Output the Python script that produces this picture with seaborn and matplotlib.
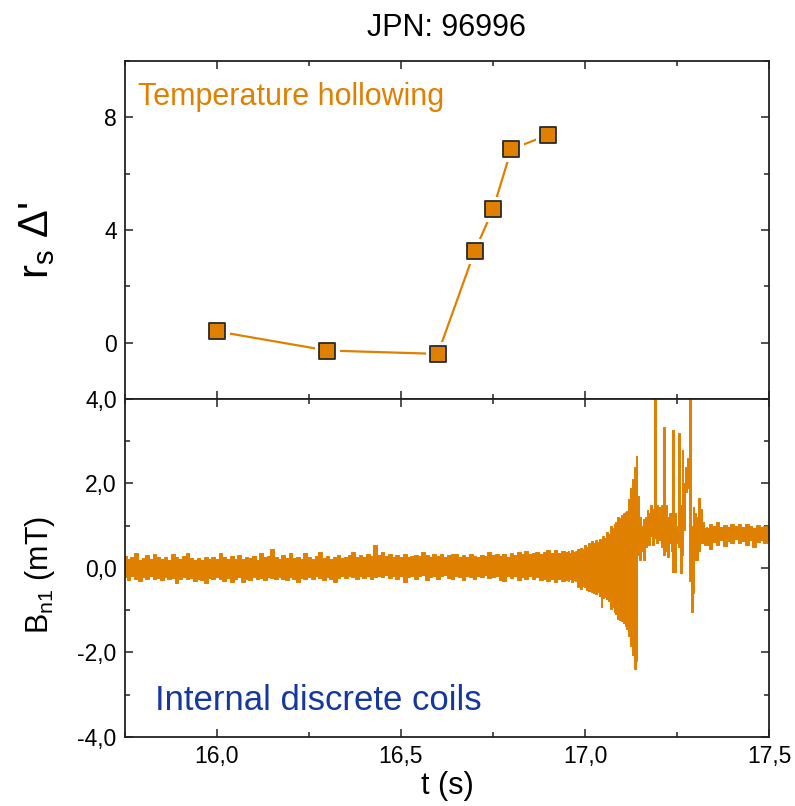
import numpy as np
import matplotlib
matplotlib.use("Agg")
import matplotlib.pyplot as plt
from matplotlib.ticker import MultipleLocator, FuncFormatter
import seaborn as sns

# ---------------- data ----------------
# top panel: r_s Delta'
t_points = [16.0, 16.3, 16.6, 16.7, 16.75, 16.8, 16.9]
rs_delta = [0.4, -0.28, -0.4, 3.24, 4.73, 6.87, 7.37]

# bottom panel: B_n1 signal envelope (upper / lower edge of the trace)
t_flat = np.round(np.arange(15.75, 16.955, 0.01), 3)
hi_flat = [0.28, 0.22, 0.25, 0.35, 0.20, 0.24, 0.30, 0.22, 0.33, 0.26,
           0.22, 0.27, 0.20, 0.32, 0.25, 0.21, 0.28, 0.35, 0.24, 0.20,
           0.24, 0.20, 0.27, 0.22, 0.25, 0.21, 0.35, 0.26, 0.22, 0.28,
           0.22, 0.30, 0.21, 0.26, 0.23, 0.28, 0.20, 0.35, 0.25, 0.29,
           0.45, 0.26, 0.22, 0.30, 0.24, 0.35, 0.23, 0.27, 0.22, 0.35,
           0.25, 0.22, 0.29, 0.37, 0.24, 0.28, 0.22, 0.26, 0.30, 0.24,
           0.27, 0.30, 0.38, 0.26, 0.30, 0.25, 0.32, 0.28, 0.54, 0.30,
           0.38, 0.28, 0.32, 0.25, 0.30, 0.27, 0.33, 0.26, 0.29, 0.31,
           0.28, 0.37, 0.30, 0.26, 0.32, 0.28, 0.33, 0.27, 0.31, 0.34,
           0.33, 0.27, 0.30, 0.26, 0.32, 0.29, 0.25, 0.31, 0.28, 0.37,
           0.30, 0.34, 0.28, 0.32, 0.27, 0.35, 0.30, 0.37, 0.33, 0.40,
           0.32, 0.36, 0.38, 0.33, 0.37, 0.42, 0.35, 0.42, 0.36, 0.40,
           0.38]
lo_flat = [-0.22, -0.28, -0.20, -0.25, -0.30, -0.22, -0.26, -0.20, -0.27, -0.24,
           -0.28, -0.22, -0.26, -0.23, -0.36, -0.25, -0.21, -0.27, -0.24, -0.30,
           -0.25, -0.29, -0.36, -0.24, -0.27, -0.22, -0.26, -0.30, -0.24, -0.33,
           -0.26, -0.22, -0.33, -0.25, -0.28, -0.22, -0.26, -0.24, -0.29, -0.21,
           -0.23, -0.27, -0.21, -0.25, -0.29, -0.22, -0.26, -0.33, -0.24, -0.27,
           -0.22, -0.26, -0.20, -0.24, -0.28, -0.22, -0.25, -0.34, -0.23, -0.20,
           -0.24, -0.19, -0.22, -0.26, -0.20, -0.23, -0.18, -0.25, -0.21, -0.19,
           -0.22, -0.17, -0.24, -0.20, -0.26, -0.19, -0.33, -0.22, -0.18, -0.25,
           -0.20, -0.17, -0.28, -0.21, -0.18, -0.25, -0.20, -0.17, -0.23, -0.26,
           -0.19, -0.22, -0.29, -0.18, -0.21, -0.25, -0.19, -0.22, -0.17, -0.24,
           -0.21, -0.18, -0.29, -0.30, -0.20, -0.24, -0.19, -0.28, -0.22, -0.25,
           -0.20, -0.26, -0.22, -0.28, -0.25, -0.30, -0.27, -0.33, -0.26, -0.31,
           -0.28]

t_burst = [16.955, 16.960, 16.965, 16.970, 16.975, 16.980, 16.985, 16.990, 16.995, 17.000,
           17.005, 17.010, 17.015, 17.020, 17.025, 17.030, 17.035, 17.040, 17.045, 17.050,
           17.055, 17.060, 17.065, 17.070, 17.075, 17.080, 17.085, 17.090, 17.095, 17.100,
           17.105, 17.110, 17.115, 17.120, 17.125, 17.130, 17.135, 17.140, 17.145, 17.150,
           17.155, 17.160, 17.165, 17.170, 17.175, 17.180, 17.185, 17.190, 17.195, 17.200,
           17.205, 17.210, 17.215, 17.220, 17.225, 17.230, 17.235, 17.240, 17.245, 17.250,
           17.255, 17.260, 17.265, 17.270, 17.275, 17.280, 17.285, 17.290, 17.295, 17.300,
           17.305, 17.310, 17.315, 17.320, 17.325, 17.330, 17.335]
hi_burst = [0.40, 0.36, 0.42, 0.38, 0.40, 0.45, 0.42, 0.48, 0.44, 0.55,
            0.50, 0.60, 0.56, 0.64, 0.60, 0.66, 0.62, 0.69, 0.66, 0.75,
            0.72, 0.85, 0.80, 1.00, 0.95, 1.05, 1.10, 1.20, 1.18, 1.25,
            1.30, 1.33, 1.35, 1.63, 1.90, 2.10, 2.40, 2.65, 1.70, 1.20,
            1.00, 1.15, 1.20, 1.37, 1.30, 1.50, 1.40, 5.00, 1.50, 1.45,
            1.20, 1.50, 3.34, 1.50, 1.20, 1.30, 1.00, 3.26, 1.30, 1.00,
            3.20, 1.50, 2.80, 2.00, 2.40, 2.60, 5.00, 1.00, 1.45, 1.30,
            1.20, 1.65, 1.40, 1.10, 0.95, 0.97, 0.95]
lo_burst = [-0.30, -0.26, -0.33, -0.28, -0.31, -0.45, -0.38, -0.50, -0.42, -0.45,
            -0.52, -0.55, -0.50, -0.57, -0.60, -0.62, -0.58, -0.66, -0.92, -0.70,
            -0.68, -0.73, -0.78, -0.97, -0.92, -1.05, -1.10, -1.20, -1.22, -1.25,
            -1.30, -1.37, -1.45, -1.60, -1.85, -2.05, -2.39, -2.20, 0.30, 0.20,
            0.40, 0.19, 0.50, 0.65, 0.55, 0.75, 0.55, 0.70, 0.60, 0.66,
            0.80, 0.50, 0.30, 0.40, 0.26, 0.60, 0.40, -0.09, -0.10, 0.60,
            0.50, -0.12, 0.30, 0.90, 1.80, 1.90, -0.30, -1.04, -0.60, 0.20,
            0.20, 0.40, 0.60, 0.60, 0.55, 0.62, 0.55]

t_tail = np.round(np.arange(17.34, 17.505, 0.01), 3)
hi_tail = [1.05, 1.00, 1.08, 0.98, 1.02, 0.96, 1.04, 0.99, 1.05, 0.97,
           1.03, 1.00, 0.95, 1.02, 0.98, 1.00, 0.97]
lo_tail = [0.45, 0.62, 0.55, 0.66, 0.52, 0.64, 0.60, 0.68, 0.58, 0.63,
           0.55, 0.66, 0.50, 0.62, 0.67, 0.60, 0.66]

# ---------------- style ----------------
sns.set_theme(style="ticks")
plt.rcParams["font.family"] = ["Liberation Sans", "DejaVu Sans"]
plt.rcParams["mathtext.fontset"] = "custom"
plt.rcParams["mathtext.rm"] = "Liberation Sans"
plt.rcParams["mathtext.it"] = "Liberation Sans:italic"
plt.rcParams["axes.unicode_minus"] = False
plt.rcParams["text.color"] = "black"
plt.rcParams["axes.labelcolor"] = "black"
plt.rcParams["xtick.labelcolor"] = "black"
plt.rcParams["ytick.labelcolor"] = "black"

ORANGE = "#E08000"
BLUE = "#1438A0"
SPINE = "#222222"

fig = plt.figure(figsize=(7.95, 8.06), dpi=100)
ax1 = fig.add_axes([0.1572, 0.5050, 0.8101, 0.4194])
ax2 = fig.add_axes([0.1572, 0.0856, 0.8101, 0.4194], sharex=ax1)

# ---- top panel ----
sns.lineplot(x=t_points, y=rs_delta, ax=ax1, color=ORANGE, linewidth=1.6, zorder=2)
ax1.scatter(t_points, rs_delta, s=18**2, marker="s", color="white", linewidths=0, zorder=3)
sns.scatterplot(x=t_points, y=rs_delta, ax=ax1, marker="s", s=11.5**2, color=ORANGE,
                edgecolor="#2a2a2a", linewidth=1.3, zorder=4)
ax1.set_ylim(-2, 10)
ax1.yaxis.set_major_locator(MultipleLocator(4))
ax1.yaxis.set_minor_locator(MultipleLocator(2))
ax1.yaxis.set_major_formatter(FuncFormatter(lambda v, p: f"{v:.0f}"))
ax1.set_ylabel(r"r$_\mathregular{s}$ $\mathregular{\Delta}$'", fontsize=30)
ax1.yaxis.set_label_coords(-0.105, 0.47)
ax1.set_title("JPN: 96996", fontsize=22, pad=18, color="black")
ax1.text(0.02, 0.870, "Temperature hollowing", transform=ax1.transAxes,
         color=ORANGE, fontsize=22, ha="left", va="baseline")
plt.setp(ax1.get_xticklabels(), visible=False)

# ---- bottom panel ----
t_all = np.concatenate([t_flat, t_burst, t_tail])
hi_all = np.concatenate([hi_flat, hi_burst, hi_tail])
lo_all = np.concatenate([lo_flat, lo_burst, lo_tail])
ax2.fill_between(t_all, lo_all, hi_all, step="mid", color=ORANGE,
                 edgecolor=ORANGE, linewidth=0.7, zorder=2)
ax2.set_xlim(15.75, 17.5)
ax2.set_ylim(-4, 4)
ax2.xaxis.set_major_locator(MultipleLocator(0.5))
ax2.xaxis.set_minor_locator(MultipleLocator(0.25))
ax2.yaxis.set_major_locator(MultipleLocator(2))
ax2.yaxis.set_minor_locator(MultipleLocator(1))
comma = FuncFormatter(lambda v, p: f"{v:.1f}".replace(".", ","))
ax2.xaxis.set_major_formatter(comma)
ax2.yaxis.set_major_formatter(comma)
ax2.set_xlabel("t (s)", fontsize=22, labelpad=2)
ax2.set_ylabel(r"B$_{\mathregular{n1}}$ (mT)", fontsize=22)
ax2.yaxis.set_label_coords(-0.105, 0.48)
ax2.text(0.047, 0.080, "Internal discrete coils", transform=ax2.transAxes,
         color=BLUE, fontsize=25, ha="left", va="baseline")

for ax in (ax1, ax2):
    for sp in ax.spines.values():
        sp.set_visible(True)
        sp.set_color(SPINE)
        sp.set_linewidth(1.3)
    ax.tick_params(which="both", direction="in", top=True, right=True,
                   color=SPINE, width=1.1, labelsize=16.5, pad=6, labelcolor="black")
    ax.tick_params(which="major", length=6)
    ax.tick_params(which="minor", length=3.5)

fig.savefig("out.png", dpi=100)
